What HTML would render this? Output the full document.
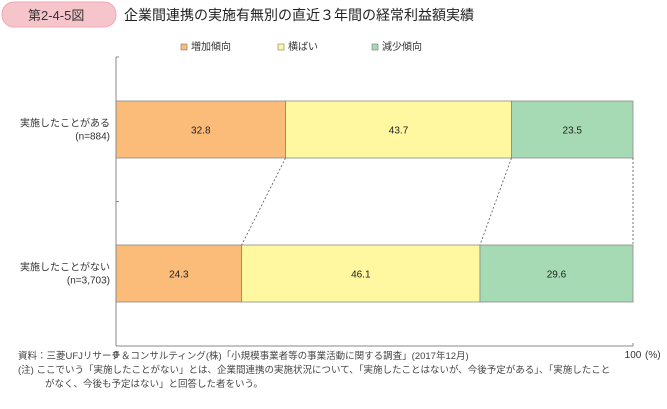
<!DOCTYPE html>
<html><head><meta charset="utf-8"><style>
body{margin:0;background:#fff;width:667px;height:404px;overflow:hidden;font-family:"Liberation Sans","Noto Sans CJK JP",sans-serif;}
</style></head><body>
<svg width="667" height="404" xmlns="http://www.w3.org/2000/svg" font-family="Liberation Sans, Noto Sans CJK JP, sans-serif">
<rect x="2" y="2" width="114" height="25" rx="12" fill="#f6c5cb" stroke="#eeaab2"/>
<text x="28" y="20" font-size="13" fill="#333">第2-4-5図</text>
<text x="124" y="20" font-size="14" fill="#222">企業間連携の実施有無別の直近３年間の経常利益額実績</text>
<g id="legend" font-size="10" fill="#333"></g>
<g id="plot"></g>
<text x="18" y="359" font-size="9.5" fill="#444">資料：三菱UFJリサーチ＆コンサルティング(株)「小規模事業者等の事業活動に関する調査」(2017年12月)</text>
<text x="18" y="373" font-size="9.5" fill="#444">(注) ここでいう「実施したことがない」とは、企業間連携の実施状況について、「実施したことはないが、今後予定がある」、「実施したこと</text>
<text x="45" y="387" font-size="9.5" fill="#444">がなく、今後も予定はない」と回答した者をいう。</text>
</svg>
<script>
const categories=["実施したことがある","実施したことがない"];
const sampleLabels=["(n=884)","(n=3,703)"];
const seriesNames=["増加傾向","横ばい","減少傾向"];
const increase=[32.8,24.3];
const flat=[43.7,46.1];
const decrease=[23.5,29.6];
const xTicks=["0","100"];
const colors=["#fbbb79","#fff8a0","#a6dab5"];
const NS="http://www.w3.org/2000/svg";
const x0=116,x1=633,yTop=57,yBot=346;
const xs=v=>x0+(x1-x0)*v/100;
const barY=[101,245],barH=57;
function mk(t,a,p){const e=document.createElementNS(NS,t);for(const k in a)e.setAttribute(k,a[k]);p.appendChild(e);return e;}
const plot=document.getElementById('plot');
const leg=document.getElementById('legend');
const legX=[181,278,372];
seriesNames.forEach((n,i)=>{
 const r=mk('rect',{x:legX[i],y:44,width:6,height:6,fill:colors[i],stroke:'#777','stroke-width':0.6},leg);
 
 
 const t=mk('text',{x:legX[i]+10,y:50},leg);t.textContent=n;
 
 
});
const series=[increase,flat,decrease];
const bounds=[];
categories.forEach((c,ci)=>{
 let acc=0;const b=[];
 series.forEach((s,si)=>{
  const v=s[ci];
  const r=mk('rect',{x:xs(acc),y:barY[ci],width:xs(acc+v)-xs(acc),height:barH,fill:colors[si],stroke:'#8a8a8a','stroke-width':0.8},plot);
  
  
  const t=mk('text',{x:(xs(acc)+xs(acc+v))/2,y:barY[ci]+barH/2+4,'font-size':10,'text-anchor':'middle',fill:'#222'},plot);
  t.textContent=v.toFixed(1);
  
  
  acc+=v;b.push(acc);
 });
 bounds.push(b);
 const l1=mk('text',{x:110,y:barY[ci]+barH/2-3,'font-size':10,'text-anchor':'end',fill:'#333'},plot);l1.textContent=c;
 
 
 const l2=mk('text',{x:110,y:barY[ci]+barH/2+10,'font-size':10,'text-anchor':'end',fill:'#333'},plot);l2.textContent=sampleLabels[ci];
 
 
});
for(let k=0;k<3;k++){
 const l=mk('line',{x1:xs(bounds[0][k]),y1:barY[0]+barH,x2:xs(bounds[1][k]),y2:barY[1],stroke:'#555','stroke-width':0.8,'stroke-dasharray':'2,2'},plot);
 
 
}
const ya=mk('line',{x1:x0,y1:yTop,x2:x0,y2:yBot,stroke:'#888'},plot);

[yTop,(yTop+yBot)/2,yBot].forEach(y=>{mk('line',{x1:x0,y1:y,x2:x0+3,y2:y,stroke:'#888'},plot);});
const xa=mk('line',{x1:x0,y1:yBot,x2:x1,y2:yBot,stroke:'#888'},plot);

mk('line',{x1:x1,y1:yBot,x2:x1,y2:yBot-3,stroke:'#888'},plot);
xTicks.forEach(v=>{
 const t=mk('text',{x:xs(Number(v)),y:358,'font-size':10,'text-anchor':'middle',fill:'#333'},plot);
 t.textContent=String(v);
 
 
});
const u=mk('text',{x:645,y:358,'font-size':10,fill:'#333'},plot);u.textContent='(%)';


</script>
</body></html>
